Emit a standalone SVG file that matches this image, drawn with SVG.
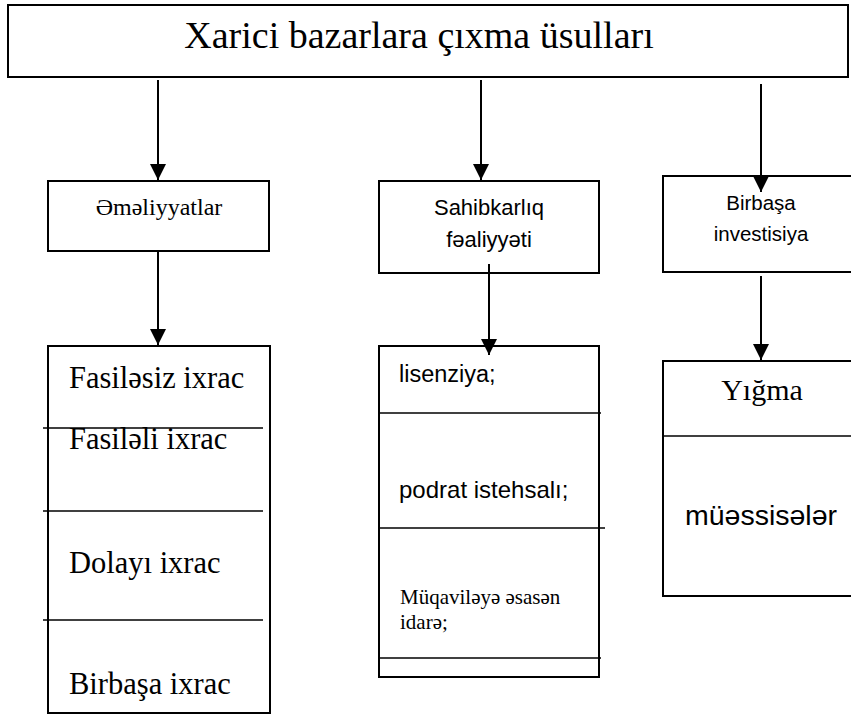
<svg xmlns="http://www.w3.org/2000/svg" width="851" height="717" viewBox="0 0 851 717">
<defs>
<marker id="ah" markerWidth="16" markerHeight="16" viewBox="0 0 16 16" refX="16" refY="8" orient="auto" markerUnits="userSpaceOnUse">
<path d="M0,0 L16,8 L0,16 Z" fill="#000"/>
</marker>
<style>
.box{fill:#fff;stroke:#000;stroke-width:2}
.div{stroke:#000;stroke-width:1.3}
.con{stroke:#000;stroke-width:2;fill:none}
.tm{font-family:"Liberation Serif","Times New Roman",serif;fill:#000}
.sn{font-family:"Liberation Sans",Arial,sans-serif;fill:#000}
</style>
</defs>
<rect width="851" height="717" fill="#fff"/>
<g id="title">
<rect class="box" x="8" y="5" width="840" height="72"/>
<text class="tm" x="419" y="48" font-size="38" text-anchor="middle">Xarici bazarlara çıxma üsulları</text>
</g>
<g id="emeliyyatlar">
<rect class="box" x="48" y="181" width="221" height="70"/>
<text class="tm" x="159" y="215" font-size="24" text-anchor="middle">Əməliyyatlar</text>
</g>
<g id="sahibkarliq">
<rect class="box" x="379" y="181" width="220" height="92"/>
<text class="sn" x="489" y="215" font-size="22" text-anchor="middle">Sahibkarlıq</text>
<text class="sn" x="489" y="247" font-size="22" text-anchor="middle">fəaliyyəti</text>
</g>
<g id="birbasa">
<rect class="box" x="663" y="176" width="190" height="96"/>
<text class="sn" x="761" y="210" font-size="20.5" text-anchor="middle">Birbaşa</text>
<text class="sn" x="761" y="241" font-size="20.5" text-anchor="middle">investisiya</text>
</g>
<g id="ixrac">
<rect class="box" x="48" y="346" width="222" height="367"/>
<line class="div" x1="43" y1="428" x2="263" y2="428"/>
<line class="div" x1="43" y1="511" x2="263" y2="511"/>
<line class="div" x1="43" y1="620" x2="263" y2="620"/>
<text class="tm" x="69" y="388" font-size="30.5">Fasiləsiz ixrac</text>
<text class="tm" x="69" y="449" font-size="30.5">Fasiləli ixrac</text>
<text class="tm" x="69" y="573" font-size="30.5">Dolayı ixrac</text>
<text class="tm" x="69" y="694" font-size="30.5">Birbaşa ixrac</text>
</g>
<g id="lisenziya">
<rect class="box" x="379" y="346" width="220" height="331"/>
<line class="div" x1="379" y1="413" x2="601" y2="413"/>
<line class="div" x1="379" y1="528" x2="605" y2="528"/>
<line class="div" x1="379" y1="658" x2="601" y2="658"/>
<text class="sn" x="399" y="382" font-size="23.5">lisenziya;</text>
<text class="sn" x="399" y="498" font-size="24">podrat istehsalı;</text>
<text class="tm" x="400" y="604" font-size="21">Müqaviləyə əsasən</text>
<text class="tm" x="400" y="629" font-size="21">idarə;</text>
</g>
<g id="yigma">
<rect class="box" x="663" y="361" width="190" height="235"/>
<line class="div" x1="663" y1="436" x2="851" y2="436"/>
<text class="tm" x="762" y="400" font-size="30" text-anchor="middle">Yığma</text>
<text class="sn" x="761" y="525" font-size="28.5" text-anchor="middle">müəssisələr</text>
</g>
<g id="connectors">
<line class="con" x1="158" y1="80" x2="158" y2="180" marker-end="url(#ah)"/>
<line class="con" x1="481" y1="80" x2="481" y2="180" marker-end="url(#ah)"/>
<line class="con" x1="761" y1="84" x2="761" y2="192" marker-end="url(#ah)"/>
<line class="con" x1="158" y1="252" x2="158" y2="345" marker-end="url(#ah)"/>
<line class="con" x1="489" y1="264" x2="489" y2="355" marker-end="url(#ah)"/>
<line class="con" x1="761" y1="276" x2="761" y2="360" marker-end="url(#ah)"/>
</g>
</svg>
